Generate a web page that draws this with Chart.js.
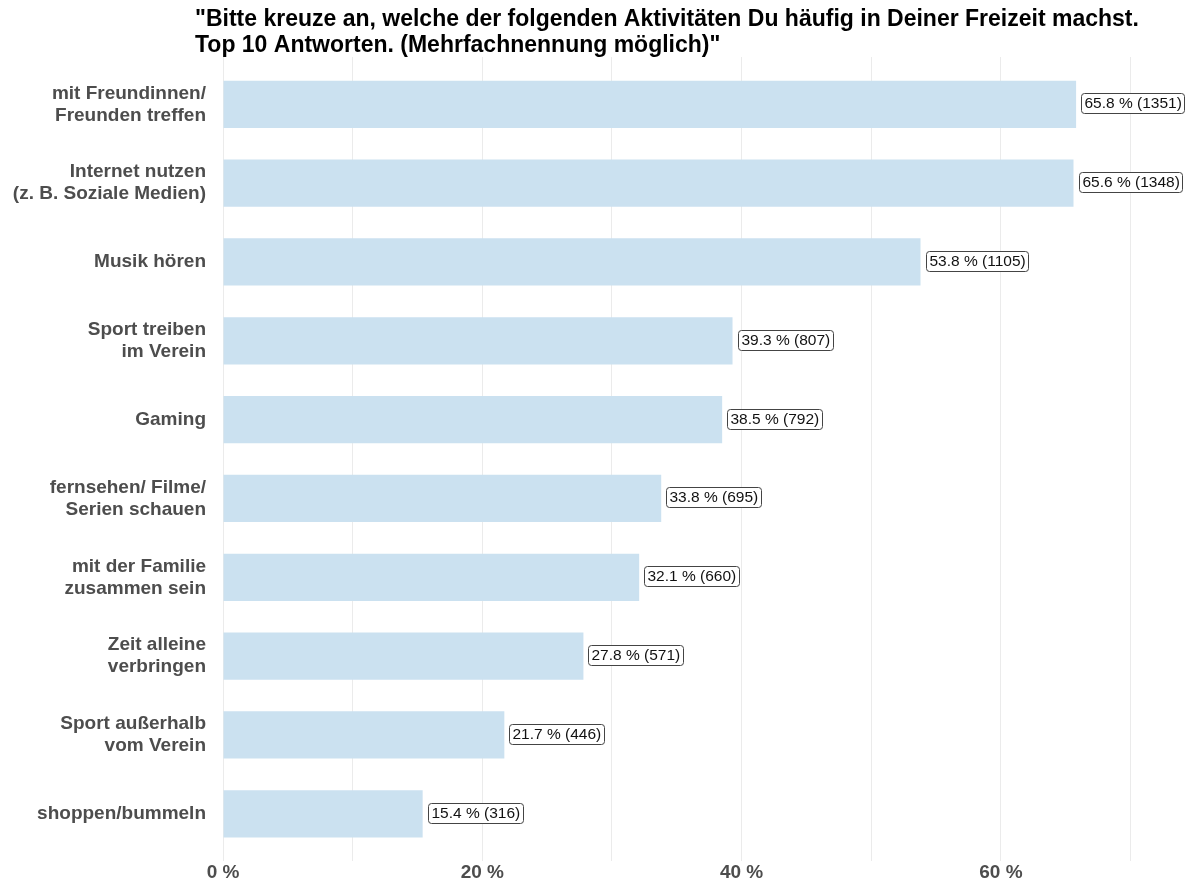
<!DOCTYPE html>
<html>
<head>
<meta charset="utf-8">
<script src="https://cdn.jsdelivr.net/npm/chart.js@4/dist/chart.umd.min.js"></script>
<style>
  html, body { margin: 0; padding: 0; background: #ffffff; }
  #wrap { width: 1189px; height: 884px; position: relative; }
</style>
</head>
<body>
<div id="wrap"><canvas id="c" width="1189" height="884"></canvas></div>
<script>
// Freizeitaktivitäten, Top 10 (Mehrfachnennung)
const categories = [
  ['mit Freundinnen/', 'Freunden treffen'],
  ['Internet nutzen', '(z. B. Soziale Medien)'],
  ['Musik hören'],
  ['Sport treiben', 'im Verein'],
  ['Gaming'],
  ['fernsehen/ Filme/', 'Serien schauen'],
  ['mit der Familie', 'zusammen sein'],
  ['Zeit alleine', 'verbringen'],
  ['Sport außerhalb', 'vom Verein'],
  ['shoppen/bummeln']
];
const percentValues = [65.8, 65.6, 53.8, 39.3, 38.5, 33.8, 32.1, 27.8, 21.7, 15.4];
const counts = [1351, 1348, 1105, 807, 792, 695, 660, 571, 446, 316];
const xTickValues = [0, 20, 40, 60];
const titleLines = [
  '"Bitte kreuze an, welche der folgenden Aktivitäten Du häufig in Deiner Freizeit machst.',
  'Top 10 Antworten. (Mehrfachnennung möglich)"'
];

const FONT = '"Liberation Sans", Arial, Helvetica, sans-serif';

// Title drawn above the plot, left-aligned
const titlePlugin = {
  id: 'leftTitle',
  afterDraw(chart) {
    const ctx = chart.ctx;
    ctx.save();
    ctx.fillStyle = '#000000';
    ctx.font = 'bold 23px ' + FONT;
    ctx.textBaseline = 'middle';
    ctx.textAlign = 'left';
    titleLines.forEach((line, i) => ctx.fillText(line, 195, 20 + i * 26));
    ctx.restore();
  }
};

// Value labels in rounded boxes next to each bar
const valueLabelPlugin = {
  id: 'valueLabels',
  afterDatasetsDraw(chart) {
    const ctx = chart.ctx;
    const meta = chart.getDatasetMeta(0);
    ctx.save();
    ctx.font = '15.5px ' + FONT;
    ctx.textBaseline = 'middle';
    ctx.textAlign = 'left';
    meta.data.forEach((bar, i) => {
      const { x, y } = bar.getProps(['x', 'y'], true);
      const text = percentValues[i].toFixed(1) + ' % (' + counts[i] + ')';
      const w = ctx.measureText(text).width;
      const padX = 3, h = 20;
      const bx = Math.round(x + 5) + 0.5;
      const by = Math.round(y - h / 2 - 1) + 0.5;
      const bw = Math.round(w + padX * 2);
      ctx.beginPath();
      ctx.roundRect(bx, by, bw, h, 3);
      ctx.fillStyle = '#ffffff';
      ctx.fill();
      ctx.strokeStyle = '#444444';
      ctx.lineWidth = 1;
      ctx.stroke();
      ctx.fillStyle = '#111111';
      ctx.fillText(text, bx + padX, by + h / 2 + 0.5);
    });
    ctx.restore();
  }
};

new Chart(document.getElementById('c'), {
  type: 'bar',
  data: {
    datasets: [{
      data: percentValues.map((v, i) => ({ x: v, y: i })),
      backgroundColor: '#cbe1f0',
      borderWidth: 0,
      barPercentage: 0.6,
      categoryPercentage: 1.0
    }]
  },
  options: {
    indexAxis: 'y',
    responsive: false,
    animation: false,
    layout: { padding: { top: 57, right: 4, bottom: 0, left: 0 } },
    plugins: {
      legend: { display: false },
      tooltip: { enabled: false },
      title: { display: false }
    },
    scales: {
      x: {
        type: 'linear',
        min: 0,
        max: 74.2,
        border: { display: false },
        grid: { color: '#ebebeb', lineWidth: 1, drawTicks: false },
        afterBuildTicks(axis) {
          axis.ticks = [0, 10, 20, 30, 40, 50, 60, 70].map(v => ({ value: v }));
        },
        afterFit(axis) { axis.paddingLeft = 0; axis.paddingRight = 0; },
        ticks: {
          padding: 1,
          color: '#4d4d4d',
          font: { family: FONT, size: 19, weight: 'bold', lineHeight: 1.1 },
          maxRotation: 0,
          autoSkip: false,
          callback: (v) => xTickValues.includes(v) ? v + ' %' : ''
        }
      },
      y: {
        type: 'linear',
        reverse: true,
        offset: false,
        min: -0.6,
        max: categories.length - 0.4,
        border: { display: false },
        grid: { display: false, drawTicks: false },
        afterBuildTicks(axis) {
          axis.ticks = categories.map((_, i) => ({ value: i }));
        },
        afterFit(axis) {
          axis.width = 223;
          axis.paddingTop = 0;
          axis.paddingBottom = 0;
        },
        ticks: {
          padding: 17,
          color: '#4d4d4d',
          autoSkip: false,
          font: { family: FONT, size: 19, weight: 'bold', lineHeight: 1.16 },
          callback: (v) => categories[v] || ''
        }
      }
    }
  },
  plugins: [titlePlugin, valueLabelPlugin]
});
</script>
</body>
</html>
